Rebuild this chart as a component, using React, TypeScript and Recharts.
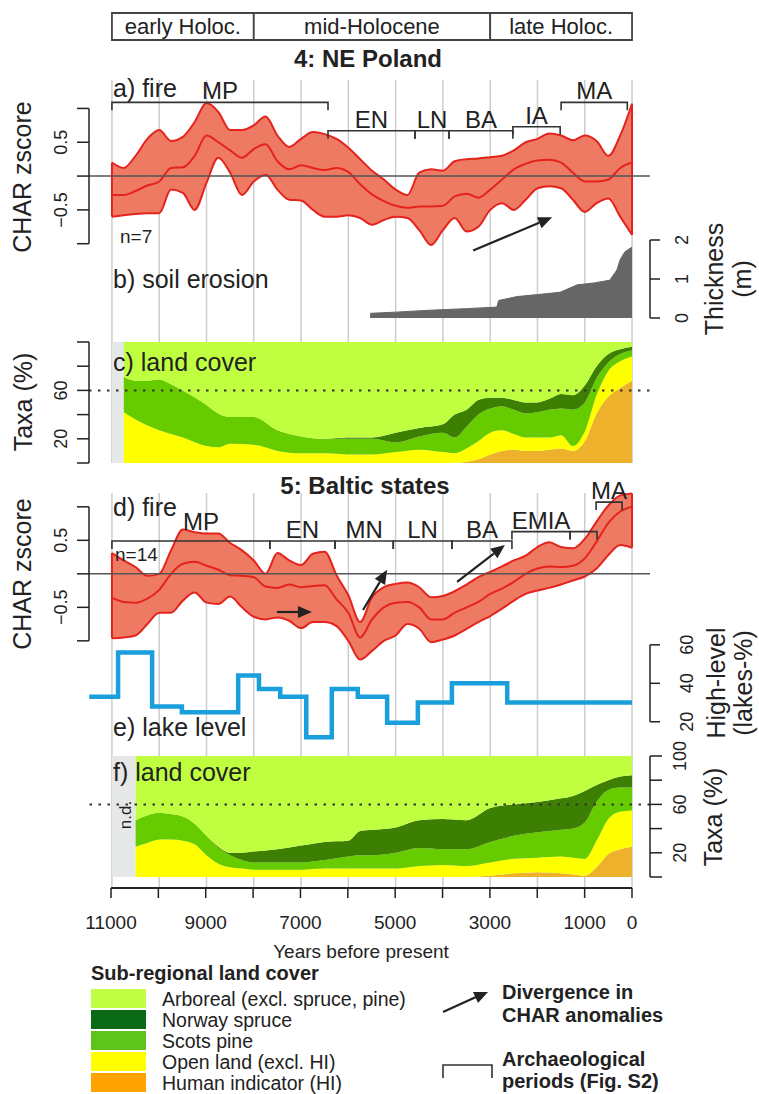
import React from "react"
import { ComposedChart, Area, Line, XAxis, YAxis, ReferenceLine, ReferenceArea } from "recharts"

const FONT = '"Liberation Sans", Arial, Helvetica, sans-serif'
const W = 759
const INK = "#222"
const PLOT_LEFT = 89
const RIGHT_GAP = 109
const PAD = 22 // room above/below each plot so edge labels are not clipped
// years before present, reversed: 11000 sits at x=111, 0 at x=632
const X_DOMAIN: [number, number] = [-380, 11485]

const GRID_YEARS = [11000, 10000, 9000, 8000, 7000, 6000, 5000, 4000, 3000, 2000, 1000, 0]
const X_LABEL_YEARS = [11000, 9000, 7000, 5000, 3000, 1000, 0]

const EPOCHS = [
  { label: "early Holoc.", from: 11000, to: 8000 },
  { label: "mid-Holocene", from: 8000, to: 3000 },
  { label: "late Holoc.", from: 3000, to: 0 },
]

// fire (CHAR z-scores), sampled every 250 yr
const FIRE_YEARS = [
  11000, 10750, 10500, 10250, 10000, 9750, 9500, 9250, 9000, 8750, 8500, 8250, 8000, 7750, 7500,
  7250, 7000, 6750, 6500, 6250, 6000, 5750, 5500, 5250, 5000, 4750, 4500, 4250, 4000, 3750, 3500,
  3250, 3000, 2750, 2500, 2250, 2000, 1750, 1500, 1250, 1000, 750, 500, 250, 0,
]
const fireUpperPL = [
  0.2, 0.12, 0.3, 0.55, 0.68, 0.52, 0.58, 0.8, 1.08, 0.95, 0.68, 0.68, 0.75, 0.88, 0.6, 0.43, 0.55,
  0.65, 0.62, 0.55, 0.42, 0.25, 0.08, -0.05, -0.2, -0.28, 0.05, 0.1, 0.08, 0.22, 0.25, 0.26, 0.28,
  0.3, 0.38, 0.5, 0.55, 0.63, 0.6, 0.53, 0.6, 0.52, 0.3, 0.6, 1.07,
]
const fireMeanPL = [
  -0.28, -0.28, -0.22, -0.14, -0.08, 0.12, 0.13, 0.3, 0.6, 0.5, 0.38, 0.27, 0.4, 0.47, 0.22, 0.1,
  0.16, 0.12, 0.09, 0.12, 0.06, -0.12, -0.27, -0.37, -0.44, -0.47, -0.45, -0.45, -0.44, -0.3, -0.26,
  -0.32, -0.2, -0.05, 0.1, 0.18, 0.23, 0.24, 0.2, 0.05, -0.08, -0.08, -0.05, 0.12, 0.2,
]
const fireLowerPL = [
  -0.6, -0.58, -0.56, -0.55, -0.55, -0.2, -0.25, -0.5, -0.1, 0.27, 0.05, -0.28, -0.08, 0.02, -0.2,
  -0.35, -0.36, -0.5, -0.6, -0.6, -0.58, -0.62, -0.72, -0.65, -0.6, -0.62, -0.8, -1.02, -0.8, -0.62,
  -0.82, -0.75, -0.5, -0.4, -0.5, -0.35, -0.18, -0.15, -0.18, -0.35, -0.53, -0.4, -0.33, -0.6, -0.87,
]
const fireUpperBS = [
  0.31, 0.2, 0.1, -0.03, 0.0, 0.35, 0.66, 0.62, 0.6, 0.6, 0.46, 0.35, 0.2, 0.0, 0.31, 0.2, 0.13, 0.3,
  0.33, -0.02, -0.32, -0.72, -0.35, -0.2, -0.15, -0.13, -0.2, -0.35, -0.33, -0.26, -0.16, -0.05,
  0.03, 0.11, 0.2, 0.27, 0.4, 0.47, 0.4, 0.38, 0.52, 0.78, 1.02, 1.17, 1.2,
]
const fireMeanBS = [
  -0.36, -0.42, -0.43, -0.37, -0.24, 0.0, 0.15, 0.18, 0.12, 0.06, -0.02, -0.03, -0.05, -0.19, -0.21,
  -0.16, -0.2, -0.18, -0.17, -0.38, -0.58, -0.95, -0.68, -0.5, -0.43, -0.42, -0.5, -0.68, -0.68,
  -0.58, -0.5, -0.42, -0.3, -0.22, -0.12, 0.0, 0.08, 0.11, 0.1, 0.12, 0.23, 0.48, 0.76, 0.93, 1.0,
]
const fireLowerBS = [
  -0.96, -0.95, -0.92, -0.75, -0.58, -0.58, -0.4, -0.28, -0.43, -0.45, -0.34, -0.5, -0.64, -0.68,
  -0.65, -0.7, -0.81, -0.72, -0.72, -0.78, -1.0, -1.28, -1.15, -1.0, -0.92, -0.75, -0.82, -1.02,
  -0.98, -0.92, -0.82, -0.72, -0.63, -0.52, -0.4, -0.3, -0.25, -0.21, -0.16, -0.1, -0.04, 0.08, 0.28,
  0.43, 0.39,
]

// archaeological periods (years BP), bracket level in z units
const PERIODS_PL = [
  { name: "MP", from: 11000, to: 6430, level: 1.09 },
  { name: "EN", from: 6430, to: 4590, level: 0.67 },
  { name: "LN", from: 4590, to: 3870, level: 0.67 },
  { name: "BA", from: 3870, to: 2520, level: 0.67 },
  { name: "IA", from: 2520, to: 1520, level: 0.73 },
  { name: "MA", from: 1500, to: 100, level: 1.09 },
]
const PERIODS_BS = [
  { name: "MP", from: 11000, to: 7660, level: 0.49, lift: 11, shift: 10 },
  { name: "EN", from: 7660, to: 6280, level: 0.49 },
  { name: "MN", from: 6280, to: 5050, level: 0.49 },
  { name: "LN", from: 5050, to: 3810, level: 0.49 },
  { name: "BA", from: 3810, to: 2540, level: 0.49 },
  { name: "EMIA", from: 2540, to: 1310, level: 0.63 },
  { name: "", from: 1310, to: 740, level: 0.63 },
  { name: "MA", from: 760, to: 210, level: 1.07 },
]
const ARROWS_PL = [{ from: [3360, -1.1], to: [1690, -0.61] }]
const ARROWS_BS = [
  { from: [7510, -0.57], to: [6770, -0.57] },
  { from: [5690, -0.54], to: [5180, 0.06] },
  { from: [3700, -0.12], to: [2690, 0.43] },
]

// soil erosion thickness (m)
const SOIL_YEARS = [5540, 5000, 4270, 3500, 2860, 2820, 2430, 2000, 1520, 1160, 800, 470, 320, 250, 150, 0]
const SOIL_M = [0.12, 0.15, 0.2, 0.24, 0.28, 0.45, 0.55, 0.6, 0.66, 0.85, 0.9, 0.97, 1.23, 1.5, 1.7, 1.82]

// high-level lakes (%), step values
const LAKE_YEARS = [11480, 10870, 10150, 9520, 8330, 7890, 7440, 6890, 6350, 5800, 5180, 4530, 3810, 2640, 0]
const LAKE_PCT = [33, 56, 28, 25, 44, 37, 33, 12, 37, 33, 19.5, 30, 40, 30, 30]

// land cover NE Poland (% per group)
const LC_PL_YEARS = [
  10750, 10500, 10250, 10000, 9750, 9500, 9000, 8750, 8500, 8000, 7500, 7000, 6500, 6000, 5500, 5000,
  4500, 4000, 3750, 3500, 3250, 3000, 2750, 2500, 2250, 2000, 1750, 1500, 1250, 1000, 750, 500, 250, 0,
]
const hiPL = [0, 0, 0, 0, 0, 0, 0, 0, 0, 0, 0, 0, 0, 0, 0, 0, 0, 0, 0, 1, 3, 7, 10, 11, 10, 10, 11, 12, 10, 18, 41, 55, 62, 68]
const openPL = [42, 36, 31, 27, 24, 21, 14, 13, 16, 15, 10, 8, 8, 7, 7, 9, 11, 9, 8, 11, 15, 18, 17, 13, 11, 11, 10, 11, 4, 8, 15, 21, 22, 20]
const pinePL = [29, 32, 37, 42, 41, 39, 34, 28, 22, 23, 17, 14, 12, 13, 13, 8, 11, 16, 13, 18, 22, 20, 20, 20, 20, 21, 23, 22, 30, 24, 14, 7, 6, 5]
const sprucePL = [0, 0, 0, 0, 0, 0, 0, 0, 0, 0, 0, 0, 0, 1, 1, 8, 7, 7, 19, 14, 12, 9, 7, 8, 9, 8, 9, 12, 12, 14, 10, 7, 4, 3]

// land cover Baltic states (% per group)
const LC_BS_YEARS = [
  10500, 10250, 10000, 9750, 9500, 9250, 9000, 8750, 8500, 8250, 8000, 7500, 7000, 6500, 6000, 5750,
  5500, 5000, 4500, 4000, 3500, 3000, 2500, 2000, 1500, 1250, 1000, 750, 500, 250, 0,
]
const hiBS = [0, 0, 0, 0, 0, 0, 0, 0, 0, 0, 0, 0, 0, 0, 0, 0, 0, 0, 0, 0, 0, 1, 3, 4, 3, 2, 1, 8, 19, 23, 25]
const openBS = [25, 28, 31, 31, 30, 27, 18, 11, 8, 7, 6, 6, 6, 7, 7, 7, 7, 7, 9, 10, 9, 11, 12, 12, 14, 14, 14, 22, 29, 31, 30]
const pineBS = [22, 23, 22, 21, 20, 17, 16, 13, 10, 7, 6, 6, 6, 7, 10, 11, 11, 13, 15, 13, 14, 17, 19, 21, 22, 24, 30, 32, 24, 20, 19]
const spruceBS = [0, 0, 0, 0, 0, 0, 0, 1, 2, 6, 9, 11, 14, 15, 13, 20, 21, 21, 23, 25, 24, 28, 26, 25, 26, 27, 26, 14, 8, 9, 10]

const LC_COLORS = { arb: "#bfff40", spruce: "#3d7f03", pine: "#66cc00", open: "#ffff00", hi: "#eeb12b" }
const LEGEND_LABELS = [
  "Arboreal (excl. spruce, pine)",
  "Norway spruce",
  "Scots pine",
  "Open land (excl. HI)",
  "Human indicator (HI)",
]
const LEGEND_COLORS = ["#c1ff45", "#0b6a16", "#5ec41c", "#ffff00", "#ffa300"]

const FIRE_FILL = "#ef7a63"
const FIRE_LINE = "#e3231c"

const fireTable = (lo: number[], mid: number[], hi: number[]) =>
  FIRE_YEARS.map((yr, i) => ({ yr, band: [lo[i], hi[i]], mean: mid[i] }))

const lcTable = (years: number[], hi: number[], open: number[], pine: number[], spruce: number[]) =>
  years.map((yr, i) => ({
    yr,
    hi: hi[i],
    open: open[i],
    pine: pine[i],
    spruce: spruce[i],
    arb: 100 - hi[i] - open[i] - pine[i] - spruce[i],
  }))

const soilData = SOIL_YEARS.map((yr, i) => ({ yr, m: SOIL_M[i] }))
const lakeData = LAKE_YEARS.map((yr, i) => ({ yr, pct: LAKE_PCT[i] }))
const gridData = GRID_YEARS.map((yr) => ({ yr, v: 0 }))

const rotTick = (show: number[], fmt: (v: number) => string, fontSize = 18) => (p: any) => {
  const v = p.payload.value
  if (!show.includes(v)) return <g />
  return (
    <text
      transform={`translate(${p.x},${p.y}) rotate(-90)`}
      textAnchor="middle"
      dominantBaseline="central"
      fontSize={fontSize}
      fill={INK}
      fontFamily={FONT}
    >
      {fmt(v)}
    </text>
  )
}
const fmtZ = (v: number) => (v < 0 ? "\u2212" + Math.abs(v) : String(v))

function Bracket(props: any) {
  const { x1, y1, x2, label, lift = 3, shift = 0 } = props
  return (
    <g>
      <path d={`M${x1},${y1 + 8}V${y1}H${x2}V${y1 + 8}`} fill="none" stroke="#333" strokeWidth={1.6} />
      {label ? (
        <text x={(x1 + x2) / 2 + shift} y={y1 - lift} textAnchor="middle" fontSize={24} fill={INK} fontFamily={FONT}>
          {label}
        </text>
      ) : null}
    </g>
  )
}

function Arrow(props: any) {
  const { x1, y1, x2, y2 } = props
  const len = Math.hypot(x2 - x1, y2 - y1)
  const ux = (x2 - x1) / len
  const uy = (y2 - y1) / len
  const bx = x2 - ux * 14
  const by = y2 - uy * 14
  return (
    <g>
      <line x1={x1} y1={y1} x2={bx} y2={by} stroke={INK} strokeWidth={2.2} />
      <polygon points={`${x2},${y2} ${bx - uy * 6},${by + ux * 6} ${bx + uy * 6},${by - ux * 6}`} fill={INK} />
    </g>
  )
}

const xAxisHidden = <XAxis dataKey="yr" type="number" domain={X_DOMAIN} reversed hide allowDataOverflow />

// plot area of a panel: `top` and `height` are page pixels of the plot itself
function Panel({ top, height, data, left, right, children }: any) {
  return (
    <div style={{ position: "absolute", left: 0, top: top - PAD }}>
      <ComposedChart
        width={W}
        height={height + 2 * PAD}
        data={data}
        margin={{ top: PAD, bottom: PAD, left: PLOT_LEFT - (left ? 60 : 0), right: RIGHT_GAP - (right ? 60 : 0) }}
      >
        {children}
      </ComposedChart>
    </div>
  )
}

function firePanel(top: number, height: number, domain: number[], data: any[], periods: any[], arrows: any[]) {
  const first = data[0]
  const last = data[data.length - 1]
  return (
    <Panel top={top} height={height} data={data} left>
      {xAxisHidden}
      <YAxis
        type="number"
        domain={domain}
        allowDataOverflow
        width={60}
        ticks={[-1, -0.5, 0, 0.5, 1]}
        interval={0}
        axisLine={false}
        tickLine={{ stroke: INK, strokeWidth: 1.5 }}
        tickSize={12}
        tickMargin={16}
        tick={rotTick([0.5, -0.5], fmtZ)}
      />
      <Area dataKey="band" type="monotone" fill={FIRE_FILL} fillOpacity={1} stroke={FIRE_LINE} strokeWidth={2} dot={false} activeDot={false} isAnimationActive={false} />
      <Line dataKey="mean" type="monotone" stroke={FIRE_LINE} strokeWidth={2} dot={false} activeDot={false} isAnimationActive={false} />
      <ReferenceLine segment={[{ x: first.yr, y: first.band[0] }, { x: first.yr, y: first.band[1] }]} stroke={FIRE_LINE} strokeWidth={2} ifOverflow="visible" />
      <ReferenceLine segment={[{ x: last.yr, y: last.band[0] }, { x: last.yr, y: last.band[1] }]} stroke={FIRE_LINE} strokeWidth={2} ifOverflow="visible" />
      <ReferenceLine y={0} stroke="#555" strokeWidth={1.5} />
      <ReferenceLine segment={[{ x: X_DOMAIN[1], y: -1 }, { x: X_DOMAIN[1], y: 1 }]} stroke={INK} strokeWidth={1.5} ifOverflow="visible" />
      {periods.map((p: any) => (
        <ReferenceLine
          key={p.name + p.from}
          segment={[{ x: p.from, y: p.level }, { x: p.to, y: p.level }]}
          ifOverflow="visible"
          shape={(sp: any) => <Bracket {...sp} label={p.name} lift={p.lift} shift={p.shift} />}
        />
      ))}
      {arrows.map((a: any, i: number) => (
        <ReferenceLine
          key={"arr" + i}
          segment={[{ x: a.from[0], y: a.from[1] }, { x: a.to[0], y: a.to[1] }]}
          ifOverflow="visible"
          shape={(sp: any) => <Arrow {...sp} />}
        />
      ))}
    </Panel>
  )
}

function landCoverPanel(top: number, data: any[], leftSide: boolean) {
  return (
    <Panel top={top} height={121} data={data} left={leftSide} right={!leftSide}>
      {xAxisHidden}
      <YAxis
        type="number"
        domain={[0, 100]}
        allowDataOverflow
        orientation={leftSide ? "left" : "right"}
        width={60}
        ticks={[0, 20, 40, 60, 80, 100]}
        interval={0}
        axisLine={{ stroke: INK, strokeWidth: 1.5 }}
        tickLine={{ stroke: INK, strokeWidth: 1.5 }}
        tickSize={12}
        tickMargin={leftSide ? 16 : 18}
        tick={rotTick(leftSide ? [20, 60] : [20, 60, 100], String)}
      />
      <ReferenceArea x1={11000} x2={data[0].yr} y1={0} y2={100} fill="#e6e8e8" fillOpacity={1} stroke="none" ifOverflow="visible" />
      <Area dataKey="hi" stackId="lc" type="monotone" fill={LC_COLORS.hi} fillOpacity={1} stroke="none" dot={false} activeDot={false} isAnimationActive={false} />
      <Area dataKey="open" stackId="lc" type="monotone" fill={LC_COLORS.open} fillOpacity={1} stroke="none" dot={false} activeDot={false} isAnimationActive={false} />
      <Area dataKey="pine" stackId="lc" type="monotone" fill={LC_COLORS.pine} fillOpacity={1} stroke="none" dot={false} activeDot={false} isAnimationActive={false} />
      <Area dataKey="spruce" stackId="lc" type="monotone" fill={LC_COLORS.spruce} fillOpacity={1} stroke="none" dot={false} activeDot={false} isAnimationActive={false} />
      <Area dataKey="arb" stackId="lc" type="monotone" fill={LC_COLORS.arb} fillOpacity={1} stroke="none" dot={false} activeDot={false} isAnimationActive={false} />
      <ReferenceLine y={60} stroke="#333" strokeWidth={2} strokeDasharray="2.5 6.5" />
    </Panel>
  )
}

function RotText({ x, y, children, size = 25 }: any) {
  return (
    <text transform={`translate(${x},${y}) rotate(-90)`} textAnchor="middle" dominantBaseline="central" fontSize={size} fill={INK} fontFamily={FONT}>
      {children}
    </text>
  )
}

export default function App() {
  const plData = fireTable(fireLowerPL, fireMeanPL, fireUpperPL)
  const bsData = fireTable(fireLowerBS, fireMeanBS, fireUpperBS)
  const lcPL = lcTable(LC_PL_YEARS, hiPL, openPL, pinePL, sprucePL)
  const lcBS = lcTable(LC_BS_YEARS, hiBS, openBS, pineBS, spruceBS)

  return (
    <div style={{ position: "absolute", left: 0, top: 0, width: W, height: 1094, background: "#fff", fontFamily: FONT }}>
      {/* epoch header */}
      <Panel top={13} height={27} data={gridData}>
        {xAxisHidden}
        <YAxis type="number" domain={[0, 1]} allowDataOverflow hide />
        {EPOCHS.map((e) => (
          <ReferenceArea
            key={e.label}
            x1={e.from}
            x2={e.to}
            fill="#fff"
            fillOpacity={1}
            stroke="#444"
            strokeWidth={1.8}
            ifOverflow="visible"
            label={{ value: e.label, position: "center", fontSize: 22, fill: INK, fontFamily: FONT }}
          />
        ))}
      </Panel>

      {/* vertical grid, upper block */}
      <Panel top={80} height={383} data={gridData}>
        {xAxisHidden}
        <YAxis type="number" domain={[0, 1]} allowDataOverflow hide />
        {GRID_YEARS.map((g) => (
          <ReferenceLine key={g} x={g} stroke="#cdcdcd" strokeWidth={1.5} />
        ))}
      </Panel>

      {/* vertical grid, lower block */}
      <Panel top={493} height={395} data={gridData}>
        {xAxisHidden}
        <YAxis type="number" domain={[0, 1]} allowDataOverflow hide />
        {GRID_YEARS.map((g) => (
          <ReferenceLine key={g} x={g} stroke="#cdcdcd" strokeWidth={1.5} />
        ))}
      </Panel>

      {/* a) fire NE Poland */}
      {firePanel(78, 186, [-1.3, 1.45], plData, PERIODS_PL, ARROWS_PL)}

      {/* b) soil erosion */}
      <Panel top={240} height={78} data={soilData} right>
        {xAxisHidden}
        <YAxis
          type="number"
          orientation="right"
          domain={[0, 2]}
          allowDataOverflow
          width={60}
          ticks={[0, 1, 2]}
          interval={0}
          axisLine={{ stroke: INK, strokeWidth: 1.5 }}
          tickLine={{ stroke: INK, strokeWidth: 1.5 }}
          tickSize={10}
          tickMargin={22}
          tick={rotTick([0, 1, 2], String)}
        />
        <Area dataKey="m" type="linear" fill="#666" fillOpacity={1} stroke="#666" strokeWidth={1} dot={false} activeDot={false} isAnimationActive={false} />
      </Panel>

      {/* c) land cover NE Poland */}
      {landCoverPanel(342, lcPL, true)}

      {/* d) fire Baltic states */}
      {firePanel(480, 191, [-1.45, 1.4], bsData, PERIODS_BS, ARROWS_BS)}

      {/* e) lake level */}
      <Panel top={641} height={100} data={lakeData} right>
        {xAxisHidden}
        <YAxis
          type="number"
          orientation="right"
          domain={[10, 62]}
          allowDataOverflow
          width={60}
          ticks={[20, 40, 60]}
          interval={0}
          axisLine={false}
          tickLine={{ stroke: INK, strokeWidth: 1.5 }}
          tickSize={10}
          tickMargin={27}
          tick={rotTick([20, 40, 60], String)}
        />
        <ReferenceLine segment={[{ x: X_DOMAIN[0], y: 20 }, { x: X_DOMAIN[0], y: 60 }]} stroke={INK} strokeWidth={1.5} ifOverflow="visible" />
        <Line dataKey="pct" type="stepAfter" stroke="#1a9fdc" strokeWidth={4.5} dot={false} activeDot={false} isAnimationActive={false} />
      </Panel>

      {/* f) land cover Baltic states */}
      {landCoverPanel(756, lcBS, false)}

      {/* time axis: its plot spans exactly 11000..0 and ends at y=888 */}
      <div style={{ position: "absolute", left: 0, top: 868 }}>
        <ComposedChart width={W} height={80} data={gridData} margin={{ top: 0, bottom: 0, left: 111, right: W - 632 }}>
          <XAxis
            dataKey="yr"
            type="number"
            domain={[0, 11000]}
            reversed
            allowDataOverflow
            ticks={GRID_YEARS}
            interval={0}
            height={60}
            axisLine={{ stroke: INK, strokeWidth: 1.6 }}
            tickLine={{ stroke: INK, strokeWidth: 1.5 }}
            tickSize={10}
            tickMargin={18}
            tick={{ fontSize: 19, fill: INK, fontFamily: FONT }}
            tickFormatter={(v: number) => (X_LABEL_YEARS.includes(v) ? String(v) : "")}
          />
          <YAxis type="number" domain={[-1, 1]} allowDataOverflow hide />
          <Line dataKey="v" stroke="none" dot={false} activeDot={false} isAnimationActive={false} />
          <ReferenceLine y={-1} stroke={INK} strokeWidth={1.6} ifOverflow="visible" />
        </ComposedChart>
      </div>

      {/* text overlay and legend */}
      <svg width={W} height={1094} style={{ position: "absolute", left: 0, top: 0, pointerEvents: "none" }} fontFamily={FONT}>
        {/* time axis baseline, 11000..0 */}
        <line x1={111} y1={888} x2={632} y2={888} stroke={INK} strokeWidth={1.6} />

        <text x={368} y={67} textAnchor="middle" fontSize={24} fontWeight="bold" fill={INK}>4: NE Poland</text>
        <text x={365} y={494} textAnchor="middle" fontSize={24} fontWeight="bold" fill={INK}>5: Baltic states</text>

        <text x={113} y={97} fontSize={25} fill={INK}>a) fire</text>
        <text x={120} y={243} fontSize={19} fill={INK}>n=7</text>
        <text x={113} y={288} fontSize={25} fill={INK}>b) soil erosion</text>
        <text x={113} y={371} fontSize={25} fill={INK}>c) land cover</text>
        <text x={113} y={516} fontSize={25} fill={INK}>d) fire</text>
        <text x={115} y={561} fontSize={19} fill={INK}>n=14</text>
        <text x={113} y={736} fontSize={25} fill={INK}>e) lake level</text>
        <text x={113} y={781} fontSize={25} fill={INK}>f) land cover</text>
        <RotText x={125} y={815} size={17}>n.d.</RotText>

        <RotText x={22} y={177}>CHAR zscore</RotText>
        <RotText x={23} y={402}>Taxa (%)</RotText>
        <RotText x={22} y={574}>CHAR zscore</RotText>
        <RotText x={714} y={279}>Thickness</RotText>
        <RotText x={742} y={279}>(m)</RotText>
        <RotText x={716} y={683}>High-level</RotText>
        <RotText x={743} y={683}>(lakes-%)</RotText>
        <RotText x={713} y={817}>Taxa (%)</RotText>

        <text x={361} y={958} textAnchor="middle" fontSize={19} fill={INK}>Years before present</text>

        <text x={91} y={980} fontSize={20} fontWeight="bold" fill={INK}>Sub-regional land cover</text>
        {LEGEND_LABELS.map((lab, i) => (
          <g key={lab}>
            <rect x={91} y={989 + i * 21} width={55} height={19} fill={LEGEND_COLORS[i]} />
            <text x={162} y={999 + i * 21} dominantBaseline="central" fontSize={19.5} fill={INK}>{lab}</text>
          </g>
        ))}

        <line x1={443} y1={1012} x2={476} y2={997} stroke={INK} strokeWidth={2.2} />
        <polygon points="488,992 473,992 478,1003" fill={INK} />
        <text x={502} y={999} fontSize={20} fontWeight="bold" fill={INK}>Divergence in</text>
        <text x={502} y={1022} fontSize={20} fontWeight="bold" fill={INK}>CHAR anomalies</text>
        <path d="M443,1078V1065H492V1078" fill="none" stroke="#333" strokeWidth={1.6} />
        <text x={502} y={1066} fontSize={20} fontWeight="bold" fill={INK}>Archaeological</text>
        <text x={502} y={1088} fontSize={20} fontWeight="bold" fill={INK}>periods (Fig. S2)</text>
      </svg>
    </div>
  )
}
